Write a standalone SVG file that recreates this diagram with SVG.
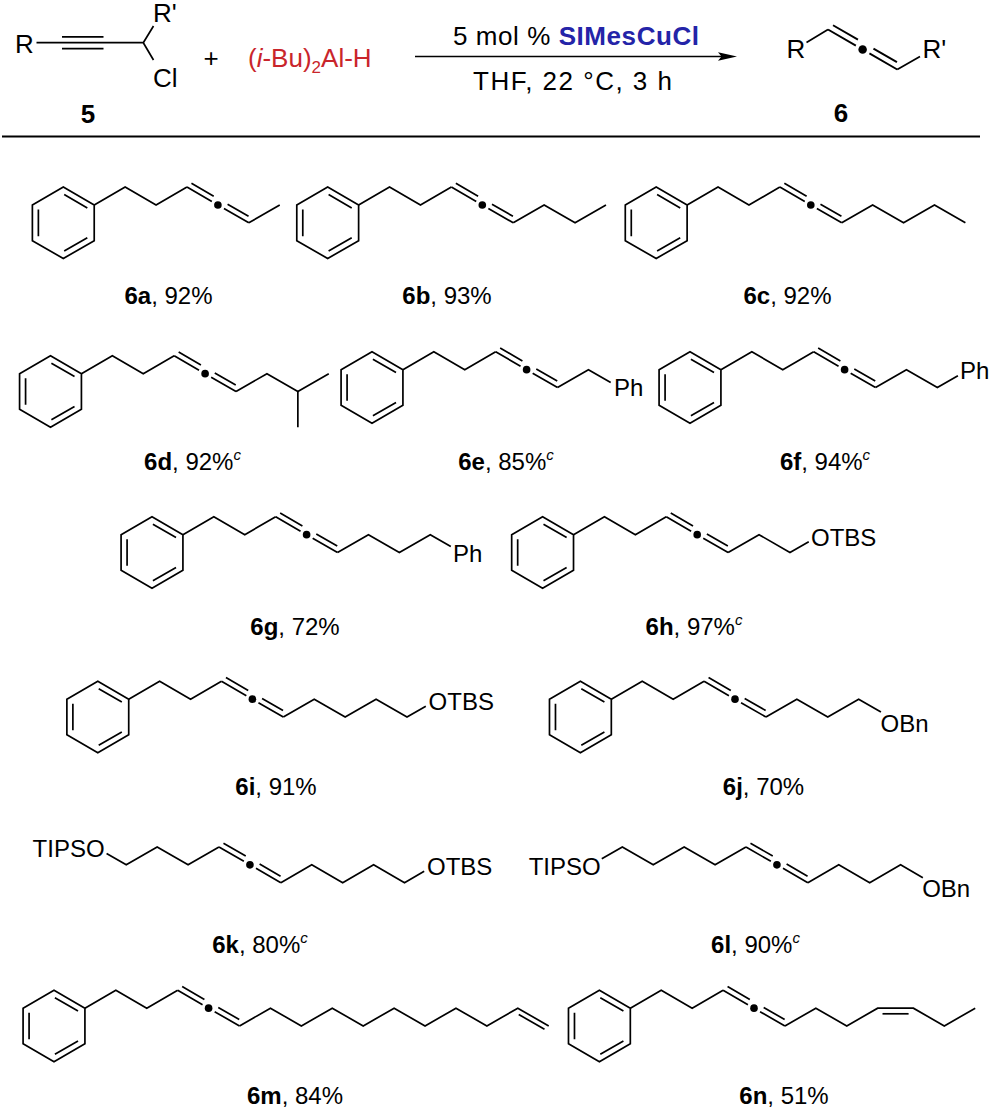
<svg xmlns="http://www.w3.org/2000/svg" xmlns:xlink="http://www.w3.org/1999/xlink" width="989" height="1107" viewBox="0 0 989 1107">
<style>
.b{stroke:#000;stroke-width:1.7;fill:none;stroke-linejoin:miter;stroke-linecap:butt}
.t{font-family:"Liberation Sans",Arial,Helvetica,sans-serif;font-size:24px;fill:#000}
.h{font-size:26px}
.bd{font-weight:bold}
.sup{font-style:italic;font-size:15px}
</style>
<defs>
<g id="bz">
<polygon class="b" points="0,-35.7 30.92,-17.85 30.92,17.85 0,35.7 -30.92,17.85 -30.92,-17.85"/>
<path class="b" d="M-24.92,-13.35V13.35M0.9,-28.25L24.02,-14.9M0.9,28.25L24.02,14.9"/>
</g>
<g id="al">
<path class="b" d="M0,0L24.86,14.35M4.48,-3.76L26.74,9.09M36.98,21.35L61.84,35.7M40.6,17.09L61.56,29.19"/>
<circle cx="30.92" cy="17.85" r="3.8" fill="#000"/>
</g>
<g id="core">
<use xlink:href="#bz" href="#bz"/>
<polyline class="b" points="30.92,-17.85 61.84,-35.7 92.76,-17.85 123.68,-35.7"/>
<use xlink:href="#al" href="#al" x="123.68" y="-35.7"/>
</g>
</defs>
<rect width="989" height="1107" fill="#fff"/>

<g id="reactant5">
<text class="t h" x="15" y="53">R</text>
<path class="b" d="M36.5,42.7H143.3M62,36.8H103.5M62,48.6H103.5M143.3,42.7L153.5,26M143.3,42.7L153.5,60"/>
<text class="t h" x="153" y="22">R'</text>
<text class="t h" x="153" y="87">Cl</text>
<text class="t h bd" x="88" y="123" text-anchor="middle">5</text>
</g>
<g id="plus"><text class="t h" x="211" y="67" text-anchor="middle">+</text></g>
<g id="reagent"><text class="t h" x="248" y="67" fill="#c9252b" style="fill:#c9252b">(<tspan font-style="italic">i</tspan>-Bu)<tspan font-size="17" dy="6">2</tspan><tspan dy="-6">Al-H</tspan></text></g>
<g id="connectors">
<line class="b" x1="415" y1="56.5" x2="724" y2="56.5"/>
<polygon points="737,56.5 718,52.3 721.5,56.5 718,60.7" fill="#000"/>
</g>
<g id="conditions">
<text class="t h" x="453" y="45" textLength="246" lengthAdjust="spacing">5 mol % <tspan class="bd" fill="#2424a8" style="fill:#2424a8">SIMesCuCl</tspan></text>
<text class="t h" x="473" y="90" textLength="199" lengthAdjust="spacing">THF, 22 °C, 3 h</text>
</g>
<g id="product6">
<text class="t h" x="786.5" y="58">R</text>
<path class="b" d="M806.5,42.5L828,29.5M897.26,69.48L920,56.5"/>
<use xlink:href="#al" href="#al" transform="translate(828,29.5) scale(1.12)"/>
<text class="t h" x="922.5" y="58">R'</text>
<text class="t h bd" x="841" y="121.5" text-anchor="middle">6</text>
</g>
<line id="rule" class="b" x1="2" y1="136.5" x2="980" y2="136.5" style="stroke-width:2"/>

<g id="m6a">
<use xlink:href="#core" href="#core" x="63.3" y="222.8"/>
<polyline class="b" points="248.82,222.8 279.74,204.95"/>
<text class="t" x="168.5" y="304" text-anchor="middle"><tspan class="bd">6a</tspan>, 92%</text>
</g>
<g id="m6b">
<use xlink:href="#core" href="#core" x="327.7" y="222.8"/>
<polyline class="b" points="513.22,222.8 544.14,204.95 575.06,222.8 605.98,204.95"/>
<text class="t" x="447" y="304" text-anchor="middle"><tspan class="bd">6b</tspan>, 93%</text>
</g>
<g id="m6c">
<use xlink:href="#core" href="#core" x="656.2" y="222.8"/>
<polyline class="b" points="841.72,222.8 872.64,204.95 903.56,222.8 934.48,204.95 965.4,222.8"/>
<text class="t" x="787.5" y="304" text-anchor="middle"><tspan class="bd">6c</tspan>, 92%</text>
</g>

<g id="m6d">
<use xlink:href="#core" href="#core" x="50.5" y="391.5"/>
<polyline class="b" points="236.02,391.5 266.94,373.65 297.86,391.5 328.78,373.65"/>
<line class="b" x1="297.86" y1="391.5" x2="297.86" y2="427.2"/>
<text class="t" x="192.5" y="470" text-anchor="middle"><tspan class="bd">6d</tspan>, 92%<tspan class="sup" dy="-10">c</tspan></text>
</g>
<g id="m6e">
<use xlink:href="#core" href="#core" x="372" y="387.5"/>
<polyline class="b" points="557.52,387.5 588.44,369.65 610.7,382.5"/>
<text class="t" x="614" y="396">Ph</text>
<text class="t" x="506" y="470" text-anchor="middle"><tspan class="bd">6e</tspan>, 85%<tspan class="sup" dy="-10">c</tspan></text>
</g>
<g id="m6f">
<use xlink:href="#core" href="#core" x="690" y="387.5"/>
<polyline class="b" points="875.52,387.5 906.44,369.65 937.36,387.5 957.89,375.65"/>
<text class="t" x="960" y="379">Ph</text>
<text class="t" x="825" y="470" text-anchor="middle"><tspan class="bd">6f</tspan>, 94%<tspan class="sup" dy="-10">c</tspan></text>
</g>

<g id="m6g">
<use xlink:href="#core" href="#core" x="152" y="552.5"/>
<polyline class="b" points="337.52,552.5 368.44,534.65 399.36,552.5 430.28,534.65 450.8,546.5"/>
<text class="t" x="453" y="562">Ph</text>
<text class="t" x="295" y="635" text-anchor="middle"><tspan class="bd">6g</tspan>, 72%</text>
</g>
<g id="m6h">
<use xlink:href="#core" href="#core" x="542.6" y="552.5"/>
<polyline class="b" points="728.12,552.5 759.04,534.65 789.96,552.5 808.76,541.65"/>
<text class="t" x="811" y="546">OTBS</text>
<text class="t" x="694" y="635" text-anchor="middle"><tspan class="bd">6h</tspan>, 97%<tspan class="sup" dy="-10">c</tspan></text>
</g>

<g id="m6i">
<use xlink:href="#core" href="#core" x="97.8" y="717"/>
<polyline class="b" points="283.32,717 314.24,699.15 345.16,717 376.08,699.15 407,717 425.8,706.15"/>
<text class="t" x="428.6" y="710">OTBS</text>
<text class="t" x="276" y="795" text-anchor="middle"><tspan class="bd">6i</tspan>, 91%</text>
</g>
<g id="m6j">
<use xlink:href="#core" href="#core" x="580.4" y="717"/>
<polyline class="b" points="765.92,717 796.84,699.15 827.76,717 858.68,699.15 880.94,712"/>
<text class="t" x="880.5" y="732">OBn</text>
<text class="t" x="763.5" y="795" text-anchor="middle"><tspan class="bd">6j</tspan>, 70%</text>
</g>

<g id="m6k">
<text class="t" x="104.6" y="857" text-anchor="end">TIPSO</text>
<polyline class="b" points="106.58,853.5 126.24,864.85 157.16,847 188.08,864.85 219,847"/>
<use xlink:href="#al" href="#al" x="219" y="847"/>
<polyline class="b" points="280.84,882.7 311.76,864.85 342.68,882.7 373.6,864.85 404.52,882.7 424.18,871.35"/>
<text class="t" x="427" y="875">OTBS</text>
<text class="t" x="260" y="953" text-anchor="middle"><tspan class="bd">6k</tspan>, 80%<tspan class="sup" dy="-10">c</tspan></text>
</g>
<g id="m6l">
<text class="t" x="600.7" y="875" text-anchor="end">TIPSO</text>
<polyline class="b" points="601.79,858.85 622.32,847 653.24,864.85 684.16,847 715.08,864.85 746,847"/>
<use xlink:href="#al" href="#al" x="746" y="847"/>
<polyline class="b" points="807.84,882.7 838.76,864.85 869.68,882.7 900.6,864.85 922.86,877.7"/>
<text class="t" x="922.2" y="897">OBn</text>
<text class="t" x="755.5" y="953" text-anchor="middle"><tspan class="bd">6l</tspan>, 90%<tspan class="sup" dy="-10">c</tspan></text>
</g>

<g id="m6m">
<use xlink:href="#core" href="#core" x="54" y="1026"/>
<polyline class="b" points="239.52,1026 270.44,1008.15 301.36,1026 332.28,1008.15 363.2,1026 394.12,1008.15 425.04,1026 455.96,1008.15 486.88,1026 517.8,1008.15 548.72,1026"/>
<line class="b" x1="518.76" y1="1014.48" x2="544.49" y2="1029.33"/>
<text class="t" x="295" y="1104" text-anchor="middle"><tspan class="bd">6m</tspan>, 84%</text>
</g>
<g id="m6n">
<use xlink:href="#core" href="#core" x="599.4" y="1026"/>
<polyline class="b" points="784.92,1026 815.84,1008.15 846.76,1026 877.68,1008.15 913.38,1008.15 944.3,1026 975.22,1008.15"/>
<line class="b" x1="882.5" y1="1013.8" x2="908.6" y2="1013.8"/>
<text class="t" x="784" y="1104" text-anchor="middle"><tspan class="bd">6n</tspan>, 51%</text>
</g>
</svg>
